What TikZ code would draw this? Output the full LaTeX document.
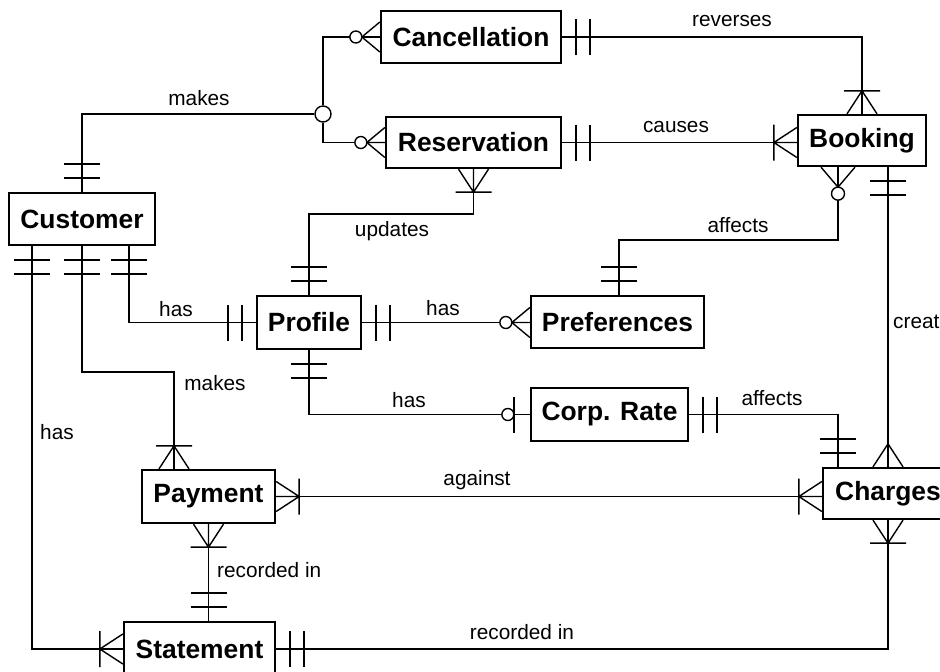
\documentclass[tikz,border=0pt]{standalone}
\usepackage{fontspec}
\setmainfont{Liberation Sans}
\usetikzlibrary{calc}

\tikzset{
  entity/.style={draw, line width=2.3pt, fill=white, inner sep=0pt,
    font=\fontsize{26.4}{30}\selectfont\bfseries},
  rel/.style={font=\fontsize{20.8}{24}\selectfont, inner sep=0pt},
  link/.style={line width=1.4pt},
  junction/.style={circle, draw, line width=1.4pt, fill=white, minimum size=16pt, inner sep=0pt},
  % cardinality marks, drawn along the local +x axis away from the box edge
  mone/.pic={\draw[line width=1.4pt] (14,-18) -- (14,18) (28,-18) -- (28,18);},
  mmany/.pic={\draw[line width=1.4pt] (0,15) -- (23,0) -- (0,-15) (0,0) -- (23,0);},
  monemany/.pic={\draw[line width=1.4pt] (0,15) -- (23,0) -- (0,-15) (0,0) -- (23,0)
      (23,-18) -- (23,18);},
  mzeromany/.pic={\draw[line width=1.4pt] (0,15) -- (18,0) -- (0,-15) (0,0) -- (18,0);
      \draw[line width=1.4pt, fill=white] (24,0) circle (6);},
  mzeromanywide/.pic={\draw[line width=1.4pt] (0,17) -- (20,0) -- (0,-17) (0,0) -- (20,0);
      \draw[line width=1.4pt, fill=white] (26.5,0) circle (6.5);},
  mzeroone/.pic={\draw[line width=1.4pt] (16,-18) -- (16,18);
      \draw[line width=1.4pt, fill=white] (22,0) circle (6);}
}

\begin{document}
\begin{tikzpicture}[x=1pt, y=-1pt]
  \useasboundingbox (0,0) rectangle (940,672);
  \clip (0,0) rectangle (940,672);
  \fill[white] (0,0) rectangle (940,672);

  % entities
  \node[entity, minimum width=180pt, minimum height=52pt] (canc) at (471,37) {Cancellation};
  \node[entity, minimum width=175pt, minimum height=51pt] (resv) at (473.5,142.5) {Reservation};
  \node[entity, minimum width=128pt, minimum height=51pt] (book) at (862,140.5) {Booking};
  \node[entity, minimum width=146pt, minimum height=52pt] (cust) at (82,219) {Customer};
  \node[entity, minimum width=104pt, minimum height=53pt] (prof) at (309,322.5) {Profile};
  \node[entity, minimum width=173pt, minimum height=52pt] (pref) at (617.5,322) {Preferences};
  \node[entity, minimum width=157pt, minimum height=53pt] (corp) at (609.5,414.5) {Corp. Rate};
  \node[entity, minimum width=133pt, minimum height=53pt] (pay) at (208.5,496.5) {Payment};
  \node[entity, minimum width=151pt, minimum height=54pt] (stmt) at (199.5,649) {Statement};
  \node[entity, minimum width=130pt, minimum height=51pt] (chrg) at (888,493.5) {Charges};

  \node[junction] (jn) at (323,114) {};

  % relationships
  \draw[link] (cust.north) |- (jn.west);
  \draw[link] (jn.north) |- (canc.west);
  \draw[link] (jn.south) |- (resv.west);
  \draw[link] (canc.east) -| (book.north);
  \draw[link] (resv.east) -- (resv.east -| book.west);
  \draw[link] (resv.south) -- ++(0,45) -| (prof.north);
  \draw[link] ([xshift=-24pt]book.south) -- ++(0,73) -| ([xshift=1.5pt]pref.north);
  \draw[link] ([xshift=26pt]book.south) -- ([xshift=26pt]book.south |- chrg.north);
  \draw[link] ([xshift=47pt]cust.south) |- (prof.west);
  \draw[link] (cust.south) -- ++(0,126) -| ([xshift=-34.5pt]pay.north);
  \draw[link] ([xshift=-50pt]cust.south) |- (stmt.west);
  \draw[link] (prof.east) -- (prof.east -| pref.west);
  \draw[link] (prof.south) |- (corp.west);
  \draw[link] (corp.east) -| ([xshift=-50pt]chrg.north);
  \draw[link] (pay.east) -- (pay.east -| chrg.west);
  \draw[link] (pay.south) -- (pay.south |- stmt.north);
  \draw[link] (chrg.south) |- (stmt.east);

  % cardinality marks
  \pic[rotate=90] at (cust.north) {mone};
  \pic[rotate=180] at (canc.west) {mzeromany};
  \pic[rotate=180] at (resv.west) {mzeromany};
  \pic at (canc.east) {mone};
  \pic[rotate=90] at (book.north) {monemany};
  \pic at (resv.east) {mone};
  \pic[rotate=180] at (resv.east -| book.west) {monemany};
  \pic[rotate=-90] at (resv.south) {monemany};
  \pic[rotate=90] at (prof.north) {mone};
  \pic[rotate=-90] at ([xshift=-24pt]book.south) {mzeromanywide};
  \pic[rotate=90] at ([xshift=1.5pt]pref.north) {mone};
  \pic[rotate=-90] at ([xshift=26pt]book.south) {mone};
  \pic[rotate=90] at (chrg.north) {mmany};
  \pic[rotate=-90] at ([xshift=-50pt]cust.south) {mone};
  \pic[rotate=-90] at (cust.south) {mone};
  \pic[rotate=-90] at ([xshift=47pt]cust.south) {mone};
  \pic[rotate=180] at (prof.west) {mone};
  \pic[rotate=90] at ([xshift=-34.5pt]pay.north) {monemany};
  \pic[rotate=180] at (stmt.west) {monemany};
  \pic at (prof.east) {mone};
  \pic[rotate=180] at (prof.east -| pref.west) {mzeromany};
  \pic[rotate=-90] at (prof.south) {mone};
  \pic[rotate=180] at (corp.west) {mzeroone};
  \pic at (corp.east) {mone};
  \pic[rotate=90] at ([xshift=-50pt]chrg.north) {mone};
  \pic at (pay.east) {monemany};
  \pic[rotate=180] at (pay.east -| chrg.west) {monemany};
  \pic[rotate=-90] at (pay.south) {monemany};
  \pic[rotate=90] at (pay.south |- stmt.north) {mone};
  \pic[rotate=-90] at (chrg.south) {monemany};
  \pic at (stmt.east) {mone};

  % relationship names
  \node[rel] (l-makes1) at (199,98) {makes};
  \node[rel] (l-reverses) at (732,21) {reverses};
  \node[rel] (l-causes) at (676,127) {causes};
  \node[rel] (l-updates) at (392,231) {updates};
  \node[rel] (l-affects1) at (738,225) {affects};
  \node[rel, anchor=west] (l-creat) at (893,322) {creat};
  \node[rel] (l-has1) at (176,309) {has};
  \node[rel] (l-has2) at (443,308) {has};
  \node[rel] (l-makes2) at (215,383) {makes};
  \node[rel] (l-has3) at (409,400) {has};
  \node[rel] (l-affects2) at (772,398) {affects};
  \node[rel] (l-has4) at (57,432) {has};
  \node[rel] (l-against) at (477,480) {against};
  \node[rel, anchor=west] (l-rec1) at (217,570) {recorded in};
  \node[rel] (l-rec2) at (522,632) {recorded in};
\end{tikzpicture}
\end{document}
